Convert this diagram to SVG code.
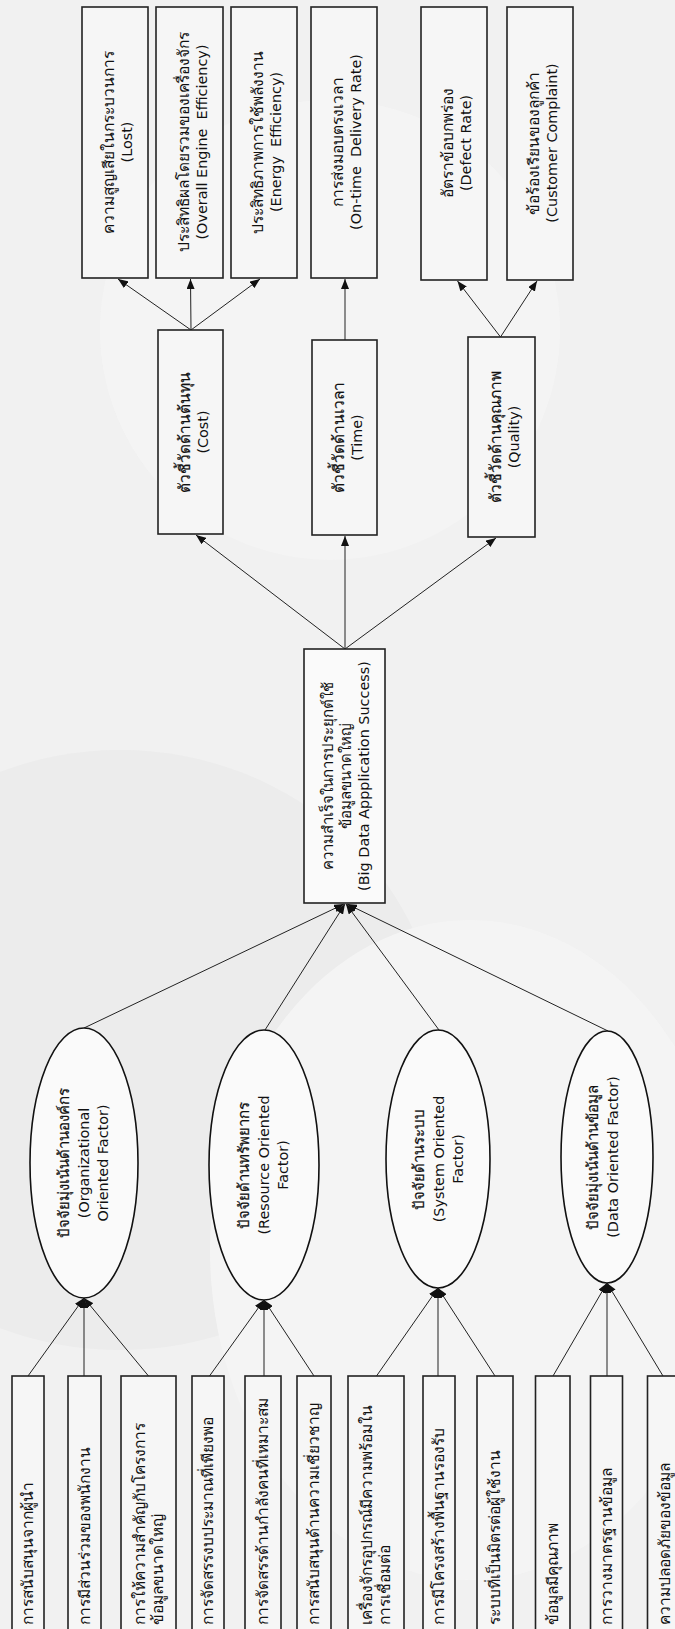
<svg xmlns="http://www.w3.org/2000/svg" width="675" height="1629" viewBox="0 0 675 1629">
<defs>
<style>
.bg{fill:#f1f1f1}
.box{fill:#f6f6f6;stroke:#222;stroke-width:1.6}
.wbox{fill:#fafafa;stroke:#222;stroke-width:1.6}
.ell{fill:#fafafa;stroke:#111;stroke-width:1.6}
.t{font-family:"DejaVu Sans","Noto Sans",sans-serif;font-size:14.4px;fill:#111;white-space:pre}
.th{font-size:15.5px}
.th2{font-size:15px}
.hv{stroke:#111;stroke-width:0.2}
.c{text-anchor:middle}
.conn line{stroke:#222;stroke-width:1;fill:none;marker-end:url(#ah)}
</style>
<marker id="ah" viewBox="0 0 10 8" markerWidth="10" markerHeight="8" refX="10" refY="4" orient="auto" markerUnits="userSpaceOnUse">
<path d="M0,0 L10,4 L0,8 Z" fill="#111"/>
</marker>
</defs>
<rect class="bg" x="0" y="0" width="675" height="1629"/>
<g id="watermark" opacity="0.6">
<circle cx="330" cy="330" r="230" fill="#f6f6f6"/>
<ellipse cx="120" cy="1050" rx="320" ry="300" fill="#e9e9e9"/>
<ellipse cx="470" cy="1250" rx="260" ry="330" fill="#f7f7f7"/>
</g>

<g class="conn" id="connectors">
<line x1="191" y1="330" x2="118" y2="279"/>
<line x1="191" y1="330" x2="190.5" y2="279"/>
<line x1="191" y1="330" x2="260" y2="279"/>
<line x1="345" y1="340" x2="345" y2="279"/>
<line x1="500.5" y1="337" x2="457.5" y2="281"/>
<line x1="500.5" y1="337" x2="537" y2="281"/>
<line x1="345" y1="649" x2="196" y2="535"/>
<line x1="345" y1="649" x2="345" y2="536"/>
<line x1="345" y1="649" x2="496" y2="538"/>
<line x1="84" y1="1028" x2="344" y2="904"/>
<line x1="265" y1="1030" x2="345" y2="904"/>
<line x1="439" y1="1030" x2="346" y2="904"/>
<line x1="608" y1="1031" x2="347" y2="904"/>
<line x1="28" y1="1376" x2="84" y2="1298"/>
<line x1="84" y1="1376" x2="84" y2="1298"/>
<line x1="148.5" y1="1376" x2="84" y2="1298"/>
<line x1="209.5" y1="1376" x2="264" y2="1300"/>
<line x1="264" y1="1376" x2="264" y2="1300"/>
<line x1="314" y1="1376" x2="264" y2="1300"/>
<line x1="376.5" y1="1376" x2="438" y2="1288"/>
<line x1="438" y1="1376" x2="438" y2="1288"/>
<line x1="495" y1="1376" x2="438" y2="1288"/>
<line x1="553" y1="1376" x2="607" y2="1283"/>
<line x1="607" y1="1376" x2="607" y2="1283"/>
<line x1="663" y1="1376" x2="607" y2="1283"/>
</g>

<g id="lost"><rect class="box" x="82" y="7" width="66" height="271"/>
<text class="t c" transform="translate(115,142) rotate(-90)"><tspan class="th" x="0" y="-1">ความสูญเสียในกระบวนการ</tspan><tspan x="0" y="17">(Lost)</tspan></text></g>
<g id="oee"><rect class="box" x="156" y="7" width="67" height="271"/>
<text class="t c" transform="translate(189.5,142) rotate(-90)"><tspan class="th" x="0" y="-1">ประสิทธิผลโดยรวมของเครื่องจักร</tspan><tspan x="0" y="17">(Overall Engine  Efficiency)</tspan></text></g>
<g id="energy"><rect class="box" x="231" y="7" width="66" height="271"/>
<text class="t c" transform="translate(264,142) rotate(-90)"><tspan class="th" x="0" y="-1">ประสิทธิภาพการใช้พลังงาน</tspan><tspan x="0" y="17">(Energy  Efficiency)</tspan></text></g>
<g id="ontime"><rect class="box" x="311" y="7" width="66" height="271"/>
<text class="t c" transform="translate(344,142) rotate(-90)"><tspan class="th" x="0" y="-1">การส่งมอบตรงเวลา</tspan><tspan x="0" y="17">(On-time  Delivery Rate)</tspan></text></g>
<g id="defect"><rect class="box" x="421" y="7" width="66" height="273"/>
<text class="t c" transform="translate(454,143) rotate(-90)"><tspan class="th" x="0" y="-1">อัตราข้อบกพร่อง</tspan><tspan x="0" y="17">(Defect Rate)</tspan></text></g>
<g id="complaint"><rect class="box" x="507" y="7" width="66" height="273"/>
<text class="t c" transform="translate(540,143) rotate(-90)"><tspan class="th" x="0" y="-1">ข้อร้องเรียนของลูกค้า</tspan><tspan x="0" y="17">(Customer Complaint)</tspan></text></g>

<g id="cost"><rect class="box" x="158" y="330" width="65" height="204"/>
<text class="t c" transform="translate(190.5,432) rotate(-90)"><tspan class="th hv" x="0" y="-1">ตัวชี้วัดด้านต้นทุน</tspan><tspan x="0" y="17">(Cost)</tspan></text></g>
<g id="time"><rect class="box" x="312" y="340" width="65" height="195"/>
<text class="t c" transform="translate(344.5,437.5) rotate(-90)"><tspan class="th hv" x="0" y="-1">ตัวชี้วัดด้านเวลา</tspan><tspan x="0" y="17">(Time)</tspan></text></g>
<g id="quality"><rect class="box" x="468" y="337" width="67" height="200"/>
<text class="t c" transform="translate(501.5,437) rotate(-90)"><tspan class="th hv" x="0" y="-1">ตัวชี้วัดด้านคุณภาพ</tspan><tspan x="0" y="17">(Quality)</tspan></text></g>

<g id="success"><rect class="wbox" x="304" y="649" width="81" height="254"/>
<text class="t c" transform="translate(344.5,776) rotate(-90)"><tspan class="th2" x="0" y="-12">ความสำเร็จในการประยุกต์ใช้</tspan><tspan class="th2" x="0" y="6">ข้อมูลขนาดใหญ่</tspan><tspan x="0" y="24">(Big Data Appplication Success)</tspan></text></g>

<g id="org"><ellipse class="ell" cx="84" cy="1163" rx="54" ry="135"/>
<text class="t c" transform="translate(84,1163) rotate(-90)"><tspan class="th2 hv" x="0" y="-15">ปัจจัยมุ่งเน้นด้านองค์กร</tspan><tspan x="0" y="5">(Organizational</tspan><tspan x="0" y="24">Oriented Factor)</tspan></text></g>
<g id="resource"><ellipse class="ell" cx="264" cy="1165" rx="55" ry="135"/>
<text class="t c" transform="translate(264,1165) rotate(-90)"><tspan class="th2 hv" x="0" y="-15">ปัจจัยด้านทรัพยากร</tspan><tspan x="0" y="5">(Resource Oriented</tspan><tspan x="0" y="24">Factor)</tspan></text></g>
<g id="system"><ellipse class="ell" cx="438" cy="1159" rx="52" ry="129"/>
<text class="t c" transform="translate(438,1159) rotate(-90)"><tspan class="th2 hv" x="0" y="-14">ปัจจัยด้านระบบ</tspan><tspan x="0" y="6">(System Oriented</tspan><tspan x="0" y="25">Factor)</tspan></text></g>
<g id="data"><ellipse class="ell" cx="607" cy="1157" rx="46" ry="126"/>
<text class="t c" transform="translate(607,1157) rotate(-90)"><tspan class="th2 hv" x="0" y="-9">ปัจจัยมุ่งเน้นด้านข้อมูล</tspan><tspan x="0" y="11">(Data Oriented Factor)</tspan></text></g>

<g id="b1"><rect class="box" x="12" y="1376" width="32" height="270"/>
<text class="t th" transform="translate(28,1625) rotate(-90)"><tspan x="0" y="5">การสนับสนุนจากผู้นำ</tspan></text></g>
<g id="b2"><rect class="box" x="68" y="1376" width="33" height="270"/>
<text class="t th" transform="translate(84.5,1625) rotate(-90)"><tspan x="0" y="5">การมีส่วนร่วมของพนักงาน</tspan></text></g>
<g id="b3"><rect class="box" x="121" y="1376" width="55" height="270"/>
<text class="t th" transform="translate(149,1625) rotate(-90)"><tspan x="0" y="-4">การให้ความสำคัญกับโครงการ</tspan><tspan x="0" y="14">ข้อมูลขนาดใหญ่</tspan></text></g>
<g id="b4"><rect class="box" x="192" y="1376" width="32" height="270"/>
<text class="t th" transform="translate(208,1625) rotate(-90)"><tspan x="0" y="5">การจัดสรรงบประมาณที่เพียงพอ</tspan></text></g>
<g id="b5"><rect class="box" x="245" y="1376" width="36" height="270"/>
<text class="t th" transform="translate(263,1625) rotate(-90)"><tspan x="0" y="5">การจัดสรรด้านกำลังคนที่เหมาะสม</tspan></text></g>
<g id="b6"><rect class="box" x="297" y="1376" width="34" height="270"/>
<text class="t th" transform="translate(314,1625) rotate(-90)"><tspan x="0" y="5">การสนับสนุนด้านความเชี่ยวชาญ</tspan></text></g>
<g id="b7"><rect class="box" x="348" y="1376" width="56" height="270"/>
<text class="t th" transform="translate(376,1625) rotate(-90)"><tspan x="0" y="-4">เครื่องจักรอุปกรณ์มีความพร้อมใน</tspan><tspan x="0" y="14">การเชื่อมต่อ</tspan></text></g>
<g id="b8"><rect class="box" x="423" y="1376" width="32" height="270"/>
<text class="t th" transform="translate(439,1625) rotate(-90)"><tspan x="0" y="5">การมีโครงสร้างพื้นฐานรองรับ</tspan></text></g>
<g id="b9"><rect class="box" x="477" y="1376" width="36" height="270"/>
<text class="t th" transform="translate(495,1625) rotate(-90)"><tspan x="0" y="5">ระบบที่เป็นมิตรต่อผู้ใช้งาน</tspan></text></g>
<g id="b10"><rect class="box" x="535.5" y="1376" width="34.5" height="270"/>
<text class="t th" transform="translate(553,1625) rotate(-90)"><tspan x="0" y="5">ข้อมูลมีคุณภาพ</tspan></text></g>
<g id="b11"><rect class="box" x="590.5" y="1376" width="32" height="270"/>
<text class="t th" transform="translate(606.5,1625) rotate(-90)"><tspan x="0" y="5">การวางมาตรฐานข้อมูล</tspan></text></g>
<g id="b12"><rect class="box" x="647.5" y="1376" width="40" height="270"/>
<text class="t th" transform="translate(665,1625) rotate(-90)"><tspan x="0" y="5">ความปลอดภัยของข้อมูล</tspan></text></g>
</svg>
